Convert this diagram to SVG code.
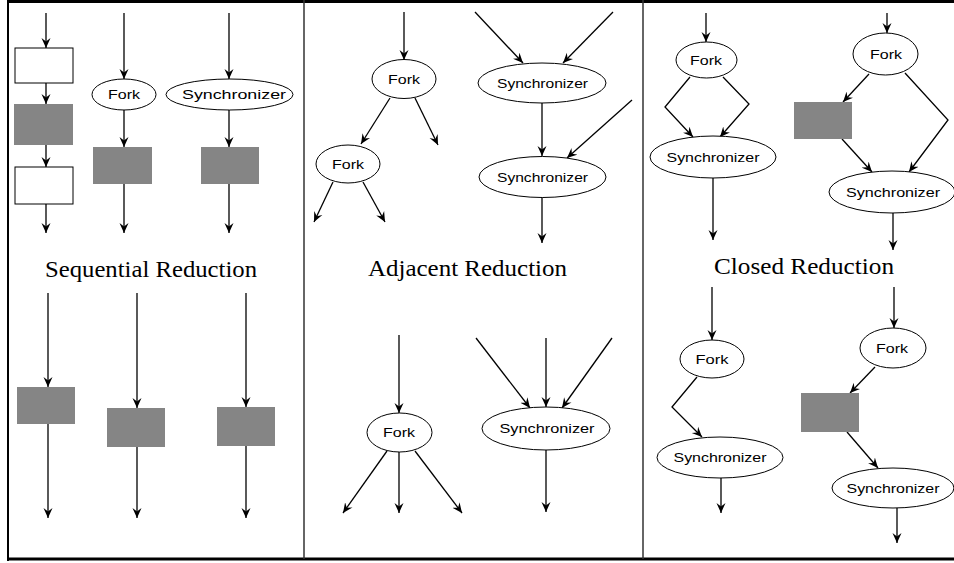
<svg xmlns="http://www.w3.org/2000/svg" width="954" height="563" viewBox="0 0 954 563">
<defs>
<marker id="ah" viewBox="0 0 10 10" refX="10" refY="5" markerWidth="10" markerHeight="10" markerUnits="userSpaceOnUse" orient="auto"><path d="M0,0.5 L10,5 L0,9.5 L3.5,5 Z" fill="#000"/></marker>
<style>
.c{fill:none;stroke:#000;stroke-width:1.3;marker-end:url(#ah)}
.e{fill:#fff;stroke:#000;stroke-width:1}
.g{fill:#858585;stroke:none}
.w{fill:#fff;stroke:#000;stroke-width:1}
.t{font-family:"Liberation Sans",Arial,sans-serif;font-size:13px;fill:#000;text-anchor:middle}
.h{font-family:"Liberation Serif","Times New Roman",serif;font-size:23px;fill:#000}
</style>
</defs>
<rect x="0" y="0" width="954" height="563" fill="#fff"/>
<g id="frame" fill="none">
<line x1="7" y1="1.5" x2="954" y2="1.5" stroke="#000" stroke-width="3"/>
<line x1="8" y1="0" x2="8" y2="561" stroke="#000" stroke-width="2"/>
<line x1="7" y1="559" x2="954" y2="559" stroke="#000" stroke-width="3"/>
<line x1="304" y1="0" x2="304" y2="559" stroke="#333" stroke-width="1.5"/>
<line x1="643" y1="0" x2="643" y2="559" stroke="#333" stroke-width="1.5"/>
</g>
<g id="titles">
<text class="h" x="45" y="277" textLength="212" lengthAdjust="spacingAndGlyphs">Sequential Reduction</text>
<text class="h" x="368" y="276" textLength="199" lengthAdjust="spacingAndGlyphs">Adjacent Reduction</text>
<text class="h" x="714" y="274" textLength="180" lengthAdjust="spacingAndGlyphs">Closed Reduction</text>
</g>
<g id="connectors">
<line class="c" x1="46" y1="13" x2="46" y2="48"/>
<line class="c" x1="46" y1="83" x2="46" y2="104"/>
<line class="c" x1="46" y1="145" x2="46" y2="167"/>
<line class="c" x1="46" y1="204" x2="46" y2="233"/>
<line class="c" x1="124" y1="13" x2="124" y2="79"/>
<line class="c" x1="124" y1="110" x2="124" y2="147"/>
<line class="c" x1="124" y1="184" x2="124" y2="233"/>
<line class="c" x1="229" y1="13" x2="229" y2="79"/>
<line class="c" x1="229" y1="110" x2="229" y2="147"/>
<line class="c" x1="229" y1="184" x2="229" y2="233"/>
<line class="c" x1="48" y1="293" x2="48" y2="387"/>
<line class="c" x1="48" y1="424" x2="48" y2="518"/>
<line class="c" x1="137" y1="293" x2="137" y2="408"/>
<line class="c" x1="137" y1="447" x2="137" y2="518"/>
<line class="c" x1="246" y1="293" x2="246" y2="407"/>
<line class="c" x1="246" y1="446" x2="246" y2="518"/>
<line class="c" x1="404" y1="12" x2="404" y2="60"/>
<line class="c" x1="390" y1="98" x2="361" y2="144"/>
<line class="c" x1="415" y1="98" x2="438" y2="145"/>
<line class="c" x1="333" y1="182" x2="314" y2="222"/>
<line class="c" x1="363" y1="182" x2="385" y2="222"/>
<line class="c" x1="475" y1="12" x2="523" y2="63"/>
<line class="c" x1="613" y1="12" x2="563" y2="63"/>
<line class="c" x1="542" y1="103" x2="542" y2="156"/>
<line class="c" x1="632" y1="100" x2="567" y2="158"/>
<line class="c" x1="542" y1="196" x2="542" y2="243"/>
<line class="c" x1="399" y1="335" x2="399" y2="413"/>
<line class="c" x1="387" y1="451" x2="343" y2="513"/>
<line class="c" x1="399" y1="452" x2="399" y2="513"/>
<line class="c" x1="415" y1="451" x2="462" y2="513"/>
<line class="c" x1="476" y1="338" x2="530" y2="408"/>
<line class="c" x1="546" y1="338" x2="546" y2="407"/>
<line class="c" x1="612" y1="338" x2="562" y2="408"/>
<line class="c" x1="546" y1="450" x2="546" y2="512"/>
<line class="c" x1="706" y1="13" x2="706" y2="42"/>
<polyline class="c" points="690,77 665,107 693,137"/>
<polyline class="c" points="723,77 749,104 720,137"/>
<line class="c" x1="713" y1="178" x2="713" y2="240"/>
<line class="c" x1="887" y1="13" x2="887" y2="33"/>
<line class="c" x1="869" y1="74" x2="843" y2="102"/>
<line class="c" x1="842" y1="139" x2="872" y2="172"/>
<polyline class="c" points="905,73 948,120 909,172"/>
<line class="c" x1="893" y1="213" x2="893" y2="250"/>
<line class="c" x1="712" y1="287" x2="712" y2="340"/>
<polyline class="c" points="697,377 672,407 702,437"/>
<line class="c" x1="721" y1="478" x2="721" y2="513"/>
<line class="c" x1="894" y1="287" x2="894" y2="328"/>
<line class="c" x1="875" y1="367" x2="850" y2="393"/>
<line class="c" x1="847" y1="432" x2="878" y2="468"/>
<line class="c" x1="897" y1="508" x2="897" y2="543"/>
</g>
<g id="p1-box1"><rect class="w" x="15" y="48" width="58" height="35"/></g>
<g id="p1-box2"><rect class="g" x="14" y="104" width="59" height="41"/></g>
<g id="p1-box3"><rect class="w" x="15" y="167" width="58" height="37"/></g>
<g id="p1-fork"><ellipse class="e" cx="124" cy="94.5" rx="32" ry="15.5"/><text class="t" x="124" y="99" textLength="32" lengthAdjust="spacingAndGlyphs">Fork</text></g>
<g id="p1-box4"><rect class="g" x="93" y="147" width="59" height="37"/></g>
<g id="p1-sync"><ellipse class="e" cx="229.5" cy="94.5" rx="63.5" ry="15.5"/><text class="t" x="234" y="99" textLength="104" lengthAdjust="spacingAndGlyphs">Synchronizer</text></g>
<g id="p1-box5"><rect class="g" x="201" y="147" width="58" height="37"/></g>
<g id="p1-box6"><rect class="g" x="17" y="387" width="58" height="37"/></g>
<g id="p1-box7"><rect class="g" x="107" y="408" width="58" height="39"/></g>
<g id="p1-box8"><rect class="g" x="217" y="407" width="58" height="39"/></g>
<g id="p2-fork1"><ellipse class="e" cx="404" cy="79" rx="32" ry="19.5"/><text class="t" x="404" y="83.5" textLength="32" lengthAdjust="spacingAndGlyphs">Fork</text></g>
<g id="p2-fork2"><ellipse class="e" cx="348" cy="164" rx="32" ry="19"/><text class="t" x="348" y="168.5" textLength="32" lengthAdjust="spacingAndGlyphs">Fork</text></g>
<g id="p2-sync1"><ellipse class="e" cx="542" cy="83" rx="64" ry="20"/><text class="t" x="542.5" y="87.5" textLength="91" lengthAdjust="spacingAndGlyphs">Synchronizer</text></g>
<g id="p2-sync2"><ellipse class="e" cx="542.5" cy="177" rx="63.5" ry="20.5"/><text class="t" x="542.5" y="181.5" textLength="91" lengthAdjust="spacingAndGlyphs">Synchronizer</text></g>
<g id="p2-fork3"><ellipse class="e" cx="399.5" cy="432.5" rx="32.5" ry="19.5"/><text class="t" x="399" y="437" textLength="32" lengthAdjust="spacingAndGlyphs">Fork</text></g>
<g id="p2-sync3"><ellipse class="e" cx="546" cy="428.5" rx="64" ry="21.5"/><text class="t" x="547" y="433" textLength="95" lengthAdjust="spacingAndGlyphs">Synchronizer</text></g>
<g id="p3-fork1"><ellipse class="e" cx="706.5" cy="60" rx="30.5" ry="18"/><text class="t" x="706" y="64.5" textLength="32" lengthAdjust="spacingAndGlyphs">Fork</text></g>
<g id="p3-sync1"><ellipse class="e" cx="713" cy="157" rx="63" ry="21"/><text class="t" x="713" y="161.5" textLength="93" lengthAdjust="spacingAndGlyphs">Synchronizer</text></g>
<g id="p3-fork2"><ellipse class="e" cx="885.5" cy="54" rx="32.5" ry="21"/><text class="t" x="886" y="58.5" textLength="32" lengthAdjust="spacingAndGlyphs">Fork</text></g>
<g id="p3-box1"><rect class="g" x="794" y="102" width="58" height="37"/></g>
<g id="p3-sync2"><ellipse class="e" cx="892" cy="192" rx="63" ry="21"/><text class="t" x="893" y="196.5" textLength="94" lengthAdjust="spacingAndGlyphs">Synchronizer</text></g>
<g id="p3-fork3"><ellipse class="e" cx="712" cy="359" rx="32" ry="19"/><text class="t" x="712" y="363.5" textLength="33" lengthAdjust="spacingAndGlyphs">Fork</text></g>
<g id="p3-sync3"><ellipse class="e" cx="720" cy="457.5" rx="63" ry="20.5"/><text class="t" x="720" y="462" textLength="93" lengthAdjust="spacingAndGlyphs">Synchronizer</text></g>
<g id="p3-fork4"><ellipse class="e" cx="893" cy="348" rx="33" ry="20"/><text class="t" x="892" y="352.5" textLength="32" lengthAdjust="spacingAndGlyphs">Fork</text></g>
<g id="p3-box2"><rect class="g" x="801" y="393" width="58" height="39"/></g>
<g id="p3-sync4"><ellipse class="e" cx="893" cy="488" rx="61" ry="20"/><text class="t" x="893" y="492.5" textLength="93" lengthAdjust="spacingAndGlyphs">Synchronizer</text></g>
</svg>
